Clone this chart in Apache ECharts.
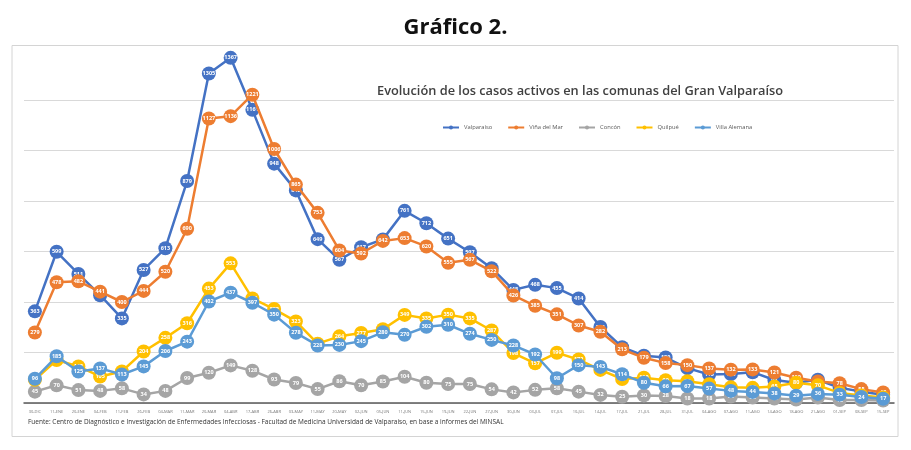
<!DOCTYPE html>
<html>
<head>
<meta charset="utf-8">
<script src="https://cdn.jsdelivr.net/npm/echarts@6/dist/echarts.min.js"></script>
<style>html,body{margin:0;padding:0;background:#fff;}#c{width:911px;height:450px;}</style>
</head>
<body>
<div id="c"></div>
<script>
const categories = ["30-DIC","11-ENE","20-ENE","04-FEB","11-FEB","26-FEB","04-MAR","11-MAR","20-MAR","04-ABR","17-ABR","26-ABR","03-MAY","11-MAY","20-MAY","02-JUN","05-JUN","11-JUN","15-JUN","19-JUN","22-JUN","27-JUN","30-JUN","03-JUL","07-JUL","10-JUL","14-JUL","17-JUL","21-JUL","28-JUL","31-JUL","04-AGO","07-AGO","11-AGO","14-AGO","18-AGO","21-AGO","01-SEP","08-SEP","15-SEP"];
const valparaiso = [363,599,511,427,335,527,613,879,1305,1367,1161,948,842,649,567,617,648,761,712,651,597,534,448,468,455,414,301,221,187,180,138,113,115,122,91,80,92,60,45,33];
const vinaDelMar = [279,478,482,441,400,444,520,690,1127,1136,1221,1006,865,753,604,592,642,653,620,555,567,522,426,385,351,307,282,213,179,158,150,137,132,133,121,100,85,78,55,42];
const concon = [45,70,51,48,58,34,48,99,120,149,128,93,79,55,86,70,85,104,80,75,75,54,42,52,58,45,32,25,30,28,18,18,26,22,18,14,22,12,12,10];
const quilpue = [92,170,145,105,125,204,258,316,453,553,414,372,323,235,264,277,292,349,335,350,335,287,198,157,199,172,131,95,100,90,86,74,62,60,65,80,70,40,30,22];
const villaAlemana = [96,185,125,137,113,145,206,243,402,437,397,350,278,228,230,245,280,270,302,310,274,250,228,192,98,150,143,114,80,66,67,57,48,44,38,29,36,33,24,17];
const seriesNames = ["Valparaíso","Viña del Mar","Concón","Quilpué","Villa Alemana"];
const seriesColors = ["#4472C4","#ED7D31","#A5A5A5","#FFC000","#5B9BD5"];
const seriesData = [valparaiso, vinaDelMar, concon, quilpue, villaAlemana];

const chart = echarts.init(document.getElementById('c'), null, {renderer:'canvas'});
const font = "'Open Sans', 'Liberation Sans', sans-serif";
chart.setOption({
  animation:false,
  backgroundColor:'#fff',
  title:[
    {text:'Gráfico 2.', left:'center', top:12, textStyle:{fontFamily:font, fontSize:22, fontWeight:'bold', color:'#111'}},
    {text:'Evolución de los casos activos en las comunas del Gran Valparaíso', left:372, top:80,
     textStyle:{fontFamily:font, fontSize:12.8, fontWeight:600, color:'#404040'}}
  ],
  legend:{
    data:seriesNames, left:437, top:119.5, itemWidth:16, itemHeight:5, itemGap:15,
    textStyle:{fontFamily:font, fontSize:5.8, color:'#595959'}
  },
  graphic:[
    {type:'rect', shape:{x:12, y:45.5, width:886, height:391}, style:{fill:'none', stroke:'#d4d4d4', lineWidth:1}, z:-1},
    {type:'text', left:28, top:419, style:{text:'Fuente: Centro de Diagnóstico e Investigación de Enfermedades Infecciosas - Facultad de Medicina Universidad de Valparaíso, en base a informes del MINSAL', font:'6.5px '+font, fill:'#333'}}
  ],
  grid:{left:24, right:17, top:49.5, bottom:47, containLabel:false},
  xAxis:{
    type:'category', data:categories, boundaryGap:true,
    axisLine:{lineStyle:{color:'#595959', width:1.5}},
    axisTick:{show:false},
    axisLabel:{interval:0, fontSize:4, color:'#777', margin:7, fontFamily:font}
  },
  yAxis:{
    type:'value', min:0, max:1400, interval:200,
    axisLabel:{show:false}, axisLine:{show:false}, axisTick:{show:false},
    splitLine:{lineStyle:{color:['#d9d9d9','#d9d9d9','#d9d9d9','#d9d9d9','#d9d9d9','#d9d9d9','#d9d9d9','rgba(0,0,0,0)'], width:1}}
  },
  series: seriesNames.map((n,i)=>({
    name:n, type:'line', data:seriesData[i], color:seriesColors[i],
    symbol:'circle', symbolSize:14,
    lineStyle:{width:2.5, color:seriesColors[i]},
    itemStyle:{color:seriesColors[i]},
    label:{show:true, position:'inside', color:'#fff', fontSize:5.5, fontWeight:'bold', fontFamily:font},
    z:2+i
  }))
});
</script>
</body>
</html>
